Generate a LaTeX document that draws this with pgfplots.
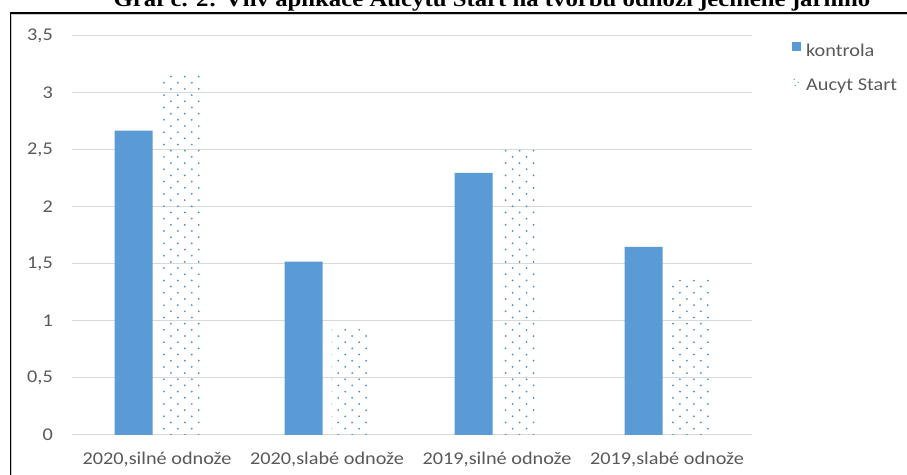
\documentclass[border=0pt]{standalone}
\usepackage{fontspec}
\setmainfont{Carlito}[FakeStretch=1.13]
\newfontfamily\titlefont{Liberation Serif}[FakeStretch=1.13]
\usepackage{pgfplots}
\pgfplotsset{compat=1.18}
\usetikzlibrary{patterns}
\definecolor{barblue}{HTML}{5B9BD5}
\definecolor{dotblue}{HTML}{4A8CCB}
\definecolor{gridgray}{HTML}{D9D9D9}
\definecolor{labelgray}{HTML}{595959}
\pgfdeclarepatternformonly{sparsedots}{\pgfqpoint{-1pt}{-1pt}}{\pgfqpoint{15pt}{13.4pt}}{\pgfqpoint{14pt}{12.4pt}}{%
  \pgfpathcircle{\pgfqpoint{3.5pt}{3.1pt}}{1.0pt}%
  \pgfpathcircle{\pgfqpoint{10.5pt}{9.3pt}}{1.0pt}%
  \pgfusepath{fill}}
\begin{document}
\begin{tikzpicture}
\useasboundingbox (0,0) rectangle (907bp,475bp);
\fill[white] (0,0) rectangle (907bp,475bp);
% title (partly cut at top, as in reference)
\node[anchor=base, inner sep=0pt, font=\titlefont\bfseries\fontsize{22}{24}\selectfont] at (492bp,468bp)
  {Graf č. 2: Vliv aplikace Aucytu Start na tvorbu odnoží ječmene jarního};
% chart border
\draw[gray!40, line width=1.5bp] (11.5bp,0) -- (11.5bp,460.5bp) -- (907bp,460.5bp);
\draw[black, line width=1.3bp] (10.5bp,0) -- (10.5bp,462bp) -- (907bp,462bp);
\begin{axis}[
  at={(72bp,40bp)}, anchor=south west,
  scale only axis, width=680bp, height=399bp,
  xmin=-0.5, xmax=3.5, ymin=0, ymax=3.5,
  ytick={0,0.5,1,1.5,2,2.5,3,3.5},
  xtick={0,1,2,3},
  xticklabels={{2020,silné odnože},{2020,slabé odnože},{2019,silné odnože},{2019,slabé odnože}},
  axis line style={draw=none},
  ymajorgrids, major grid style={color=gridgray, line width=1bp},
  major tick length=0pt,
  /pgf/number format/use comma,
  /pgf/number format/assume math mode=true,
  tick label style={font=\fontsize{18}{20}\selectfont, text=labelgray},
  yticklabel style={anchor=east, inner sep=0pt, xshift=-19bp},
  xticklabel style={anchor=base, inner sep=0pt, yshift=-30bp},
  ybar, bar width=38bp,
  legend style={draw=none, fill=none, at={(1.0544,0.99)}, anchor=north west,
    font=\fontsize{18}{20}\selectfont, text=labelgray, row sep=21bp,
    nodes={inner sep=0pt}},
  legend cell align=left,
]
\addplot[draw=none, fill=barblue, bar shift=-23.5bp,
  legend image code/.code={\fill[barblue] (0bp,-0.5bp) rectangle (9bp,8.5bp);}]
  coordinates {(0,2.67) (1,1.52) (2,2.30) (3,1.65)};
\addlegendentry{\hspace{5bp}kontrola}
\addplot[draw=none, pattern=sparsedots, pattern color=dotblue, bar shift=23.5bp,
  legend image code/.code={%
    \fill[dotblue] (2bp,6bp) circle (0.7bp);
    \fill[dotblue] (6bp,3bp) circle (0.7bp);
    \fill[dotblue] (3bp,0bp) circle (0.7bp);}]
  coordinates {(0,3.18) (1,0.93) (2,2.50) (3,1.36)};
\addlegendentry{\hspace{5bp}Aucyt Start}
\end{axis}
\end{tikzpicture}
\end{document}
